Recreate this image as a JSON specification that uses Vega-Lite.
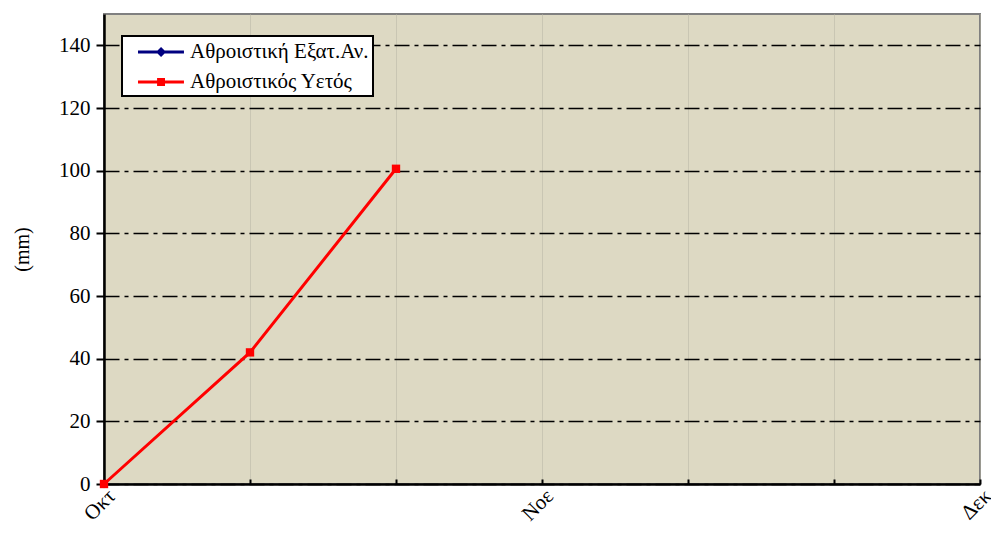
{
  "$schema": "https://vega.github.io/schema/vega-lite/v6.json",
  "width": 876,
  "height": 470,
  "autosize": {"type": "none"},
  "padding": {"left": 104, "top": 14, "right": 11, "bottom": 49},
  "background": "white",
  "config": {
    "font": "Liberation Serif, serif",
    "view": {"fill": "#DDD9C3", "stroke": "#808080", "strokeWidth": 2},
    "axis": {"labelFont": "Liberation Serif, serif", "titleFont": "Liberation Serif, serif", "labelColor": "black", "titleColor": "black", "labelFontSize": 21, "domainColor": "black", "domainWidth": 2.5, "tickColor": "black", "tickWidth": 2}
  },
  "data": {
    "values": [
      {"t": 0, "v": 0, "s": "Αθροιστική Εξατ.Αν."},
      {"t": 0, "v": 0, "s": "Αθροιστικός Υετός"},
      {"t": 1, "v": 42, "s": "Αθροιστικός Υετός"},
      {"t": 2, "v": 100.6, "s": "Αθροιστικός Υετός"}
    ]
  },
  "encoding": {
    "x": {
      "field": "t", "type": "quantitative",
      "scale": {"domain": [0, 6], "nice": false, "zero": false},
      "axis": {
        "title": null,
        "values": [0, 1, 2, 3, 4, 5, 6],
        "labelExpr": "datum.value == 0 ? 'Οκτ' : datum.value == 3 ? 'Νοε' : datum.value == 6 ? 'Δεκ' : ''",
        "labelAngle": -45,
        "labelPadding": 6,
        "tickSize": -5,
        "grid": true,
        "gridColor": "#B5B2A2",
        "gridDash": [1, 1],
        "gridWidth": 1,
        "labelFlush": false,
        "labelOverlap": false
      }
    },
    "y": {
      "field": "v", "type": "quantitative",
      "scale": {"domain": [0, 150], "nice": false},
      "axis": {
        "title": "(mm)",
        "titleFontSize": 20,
        "titleFontWeight": "normal",
        "titlePadding": 26,
        "values": [0, 20, 40, 60, 80, 100, 120, 140],
        "tickSize": 8,
        "labelPadding": 6,
        "grid": true,
        "gridColor": "black",
        "gridDash": [15, 5, 4, 5],
        "gridWidth": 1.6
      }
    },
    "color": {
      "field": "s", "type": "nominal",
      "scale": {"domain": ["Αθροιστική Εξατ.Αν.", "Αθροιστικός Υετός"], "range": ["#000080", "#FF0000"]},
      "legend": {
        "title": null,
        "orient": "none",
        "legendX": 18,
        "legendY": 22,
        "fillColor": "white",
        "strokeColor": "black",
        "padding": 4,
        "labelFontSize": 21,
        "labelFont": "Liberation Serif, serif",
        "labelColor": "black",
        "labelLimit": 0,
        "symbolSize": 576,
        "rowPadding": 8,
        "labelOffset": 40,
        "encode": {
          "legend": {"update": {"strokeWidth": {"value": 2}}},
          "symbols": {
            "update": {
              "shape": {"signal": "datum.value === 'Αθροιστική Εξατ.Αν.' ? 'M0,-0.125H3.83V0.125H0Z M1.92,-0.42L2.34,0L1.92,0.42L1.5,0Z' : 'M0,-0.125H3.83V0.125H0Z M1.59,-0.33H2.25V0.33H1.59Z'"},
              "fill": {"signal": "datum.value === 'Αθροιστική Εξατ.Αν.' ? '#000080' : '#FF0000'"},
              "strokeWidth": {"value": 0},
              "fillOpacity": {"value": 1},
              "opacity": {"value": 1}
            }
          }
        }
      }
    }
  },
  "layer": [
    {"mark": {"type": "line", "strokeWidth": 3}},
    {
      "transform": [{"filter": "datum.s === 'Αθροιστική Εξατ.Αν.'"}],
      "mark": {"type": "point", "shape": "diamond", "filled": true, "opacity": 1, "size": 70}
    },
    {
      "transform": [{"filter": "datum.s === 'Αθροιστικός Υετός'"}],
      "mark": {"type": "point", "shape": "square", "filled": true, "opacity": 1, "size": 70}
    }
  ]
}
